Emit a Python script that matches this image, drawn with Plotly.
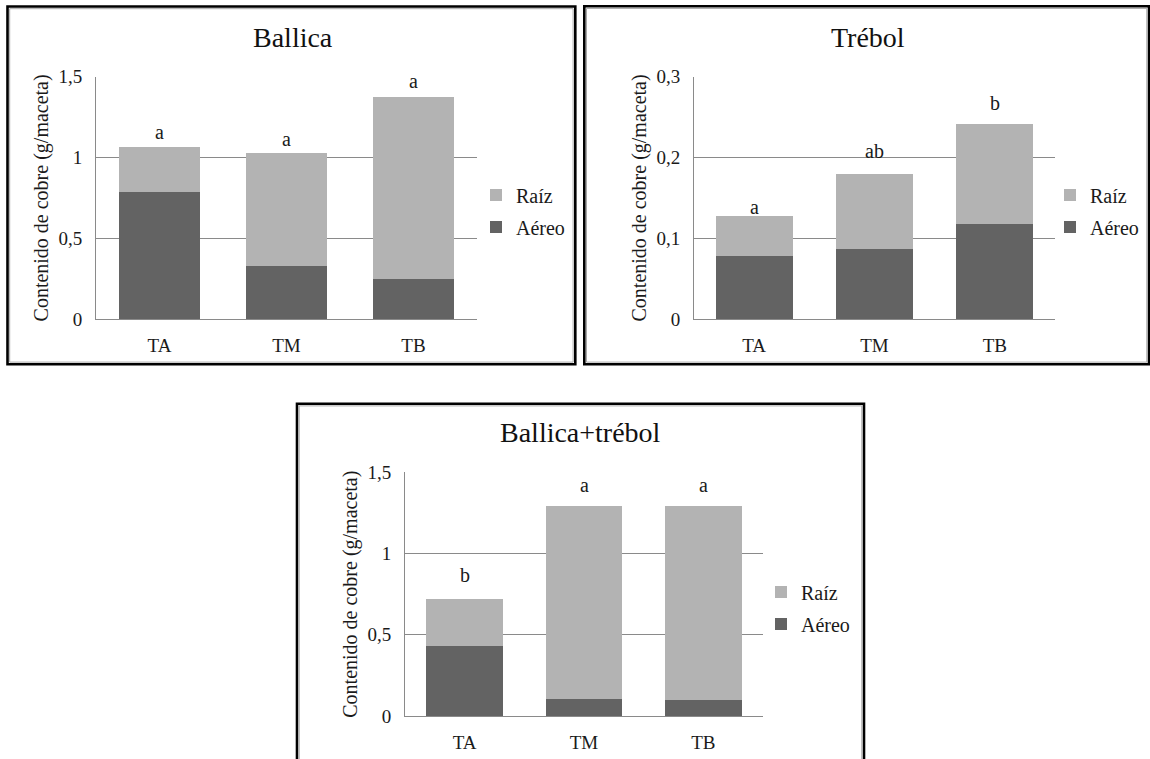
import plotly.graph_objects as go

W, H = 1150, 759

# ---------------- data ----------------
categories = ["TA", "TM", "TB"]

ballica_aereo = [0.786, 0.331, 0.247]
ballica_raiz = [0.279, 0.696, 1.127]

trebol_aereo = [0.0786, 0.0864, 0.1173]
trebol_raiz = [0.0489, 0.0936, 0.1237]

mezcla_aereo = [0.432, 0.105, 0.098]
mezcla_raiz = [0.286, 1.185, 1.195]

letters_ballica = ["a", "a", "a"]
letters_trebol = ["a", "ab", "b"]
letters_mezcla = ["b", "a", "a"]

titles = ["Ballica", "Trébol", "Ballica+trébol"]
y_title = "Contenido de cobre (g/maceta)"

# ---------------- style ----------------
FONT = "Liberation Serif"
C_AEREO = "#636363"
C_RAIZ = "#b3b3b3"
C_GRID = "#8a8a8a"


def fx(px):
    return px / W


def fy(py):
    return 1 - py / H


panels = [
    dict(xa="x", ya="y", xd=(96, 477), yd=(319.3, 76.5), rng=[0, 1.5], dtick=0.5,
         aereo=ballica_aereo, raiz=ballica_raiz, letters=letters_ballica,
         lshift=[15, 14, 16], title=titles[0], tpos=(293, 37),
         legend="legend", lpos=(476, 211), border=(7.5, 6.5, 575.3, 364.3)),
    dict(xa="x2", ya="y2", xd=(694, 1055), yd=(319.3, 76.5), rng=[0, 0.3], dtick=0.1,
         aereo=trebol_aereo, raiz=trebol_raiz, letters=letters_trebol,
         lshift=[9, 23, 21], title=titles[1], tpos=(868, 37),
         legend="legend2", lpos=(1050, 211), border=(584.3, 6.2, 1149, 364.3)),
    dict(xa="x3", ya="y3", xd=(405, 763), yd=(716, 472.3), rng=[0, 1.5], dtick=0.5,
         aereo=mezcla_aereo, raiz=mezcla_raiz, letters=letters_mezcla,
         lshift=[24, 21, 21], title=titles[2], tpos=(580, 432),
         legend="legend3", lpos=(761, 608), border=(297, 403.7, 864, 800)),
]

fig = go.Figure()
layout = dict(
    width=W, height=H, margin=dict(l=0, r=0, t=0, b=0),
    paper_bgcolor="white", plot_bgcolor="white",
    barmode="stack", bargap=0.36, separators=",.",
    font=dict(family=FONT, size=19, color="#1a1a1a"),
    showlegend=True,
    template="none",
)
annotations = []
shapes = []

for i, p in enumerate(panels):
    sfx = "" if i == 0 else str(i + 1)
    for name, vals, col, rank in [("Aéreo", p["aereo"], C_AEREO, 2), ("Raíz", p["raiz"], C_RAIZ, 1)]:
        fig.add_trace(go.Bar(
            x=categories, y=vals, name=name, marker=dict(color=col, line=dict(width=0)),
            xaxis=p["xa"], yaxis=p["ya"], legend=p["legend"], legendgroup=name + sfx,
            legendrank=rank,
        ))
    layout["xaxis" + sfx] = dict(
        domain=[fx(p["xd"][0]), fx(p["xd"][1])], anchor=p["ya"],
        showline=True, linecolor=C_GRID, linewidth=1, ticks="", showgrid=False,
        tickfont=dict(size=19, family=FONT), ticklabelstandoff=9, zeroline=False,
    )
    layout["yaxis" + sfx] = dict(
        domain=[fy(p["yd"][0]), fy(p["yd"][1])], anchor=p["xa"], range=p["rng"],
        dtick=p["dtick"], showline=True, linecolor=C_GRID, linewidth=1,
        showgrid=True, gridcolor=C_GRID, gridwidth=1, zeroline=False, ticks="",
        tickfont=dict(size=19, family=FONT), ticklabelstandoff=9,
        title=dict(text=y_title, font=dict(size=20, family=FONT), standoff=4),
    )
    layout[p["legend"]] = dict(
        x=fx(p["lpos"][0]), y=fy(p["lpos"][1]), xanchor="left", yanchor="middle",
        xref="paper", yref="paper", bgcolor="rgba(0,0,0,0)",
        font=dict(size=20, family=FONT), traceorder="grouped",
        tracegroupgap=3,
    )
    # significance letters
    for c, a, r, lt, sh in zip(categories, p["aereo"], p["raiz"], p["letters"], p["lshift"]):
        annotations.append(dict(
            x=c, y=a + r, xref=p["xa"], yref=p["ya"], text=lt, showarrow=False,
            yanchor="middle", yshift=sh, font=dict(size=20, family=FONT),
        ))
    # panel title
    annotations.append(dict(
        x=fx(p["tpos"][0]), y=fy(p["tpos"][1]), xref="paper", yref="paper",
        text=p["title"], showarrow=False, xanchor="center", yanchor="middle",
        font=dict(size=28, family=FONT, color="#111111"),
    ))
    # panel border (black frame with thin grey inner line)
    x0, y0, x1, y1 = p["border"]
    shapes.append(dict(type="rect", xref="paper", yref="paper",
                       x0=fx(x0), x1=fx(x1), y0=fy(y0), y1=fy(y1),
                       line=dict(color="black", width=2.6), layer="above"))
    shapes.append(dict(type="rect", xref="paper", yref="paper",
                       x0=fx(x0 + 2.2), x1=fx(x1 - 2.2), y0=fy(y0 + 2.2), y1=fy(y1 - 2.2),
                       line=dict(color="#a8a8a8", width=1), layer="above"))

layout["annotations"] = annotations
layout["shapes"] = shapes
fig.update_layout(**layout)

fig.write_html("out.html")
